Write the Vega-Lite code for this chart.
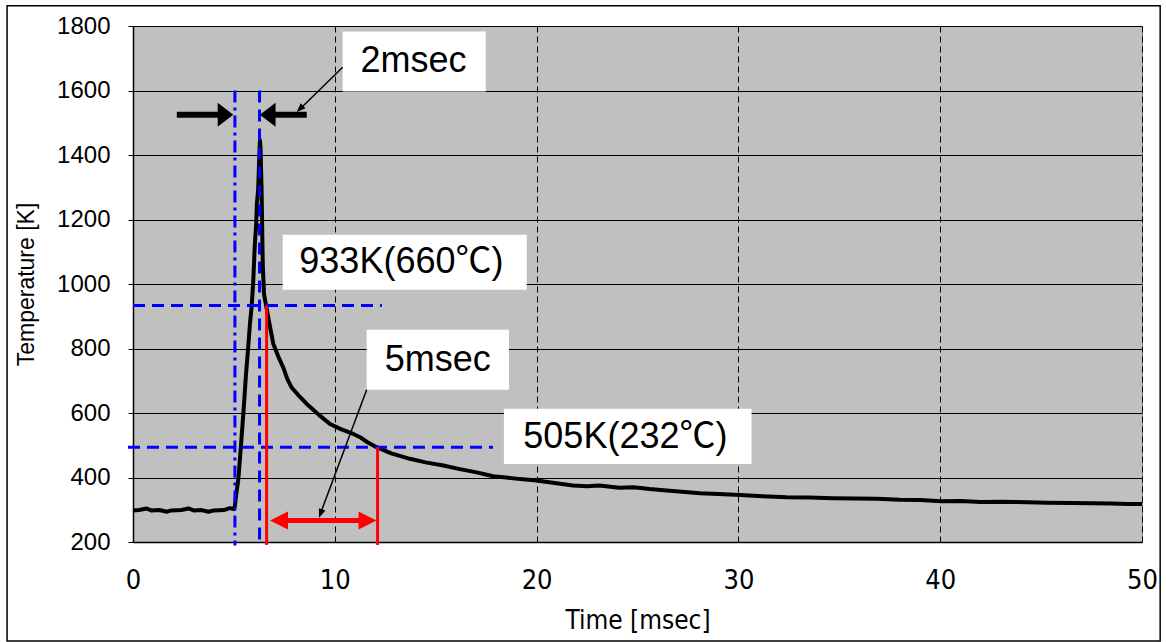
{
  "$schema": "https://vega.github.io/schema/vega-lite/v6.json",
  "width": 1009,
  "height": 516,
  "autosize": {"type": "none"},
  "padding": {"left": 133, "top": 26, "right": 24, "bottom": 100},
  "background": "white",
  "config": {
    "view": {"fill": "#C0C0C0", "stroke": "#808080", "strokeWidth": 1},
    "font": "Liberation Sans, sans-serif",
    "axisX": {
      "grid": true, "gridColor": "#000000", "gridDash": [6, 4], "gridWidth": 1, "gridOpacity": 1,
      "domainColor": "#000000", "domainWidth": 1.5, "tickSize": 0,
      "labelFont": "DejaVu Sans Condensed, Liberation Sans, sans-serif", "labelFontSize": 27, "labelColor": "#000000",
      "labelPadding": 25, "labelFlush": false,
      "titleFont": "DejaVu Sans Condensed, Liberation Sans, sans-serif", "titleFontSize": 26, "titleFontWeight": "normal",
      "titleColor": "#000000", "titlePadding": 14
    },
    "axisY": {
      "grid": true, "gridColor": "#000000", "gridWidth": 1, "gridOpacity": 1,
      "domainColor": "#000000", "domainWidth": 1.5, "tickSize": 5, "tickColor": "#000000",
      "labelFont": "Liberation Sans, sans-serif", "labelFontSize": 24, "labelColor": "#000000",
      "labelPadding": 18, "labelFlush": false,
      "titleFont": "Liberation Sans, sans-serif", "titleFontSize": 23, "titleFontWeight": "normal",
      "titleColor": "#000000", "titlePadding": 18
    }
  },
  "encoding": {
    "x": {
      "field": "t", "type": "quantitative",
      "scale": {"domain": [0, 50], "nice": false, "zero": false},
      "axis": {"title": "Time [msec]", "values": [0, 10, 20, 30, 40, 50], "format": "d"}
    },
    "y": {
      "field": "T", "type": "quantitative",
      "scale": {"domain": [200, 1800], "nice": false, "zero": false},
      "axis": {"title": "Temperature [K]", "values": [200, 400, 600, 800, 1000, 1200, 1400, 1600, 1800], "format": "d"}
    }
  },
  "layer": [
    {
      "data": {"values": [
        {"t": 0, "T": 298}, {"t": 0.3, "T": 299}, {"t": 0.68, "T": 304}, {"t": 0.9, "T": 298},
        {"t": 1.3, "T": 299}, {"t": 1.68, "T": 294}, {"t": 1.9, "T": 298}, {"t": 2.4, "T": 299},
        {"t": 2.75, "T": 304}, {"t": 3.0, "T": 298}, {"t": 3.4, "T": 299}, {"t": 3.74, "T": 294},
        {"t": 4.0, "T": 298}, {"t": 4.5, "T": 299}, {"t": 4.8, "T": 305}, {"t": 5.0, "T": 302},
        {"t": 5.05, "T": 312}, {"t": 5.12, "T": 350}, {"t": 5.22, "T": 395}, {"t": 5.35, "T": 500},
        {"t": 5.47, "T": 600}, {"t": 5.6, "T": 720}, {"t": 5.71, "T": 805}, {"t": 5.8, "T": 880},
        {"t": 5.88, "T": 930}, {"t": 5.96, "T": 1010}, {"t": 6.02, "T": 1100}, {"t": 6.05, "T": 1135},
        {"t": 6.1, "T": 1180}, {"t": 6.14, "T": 1250}, {"t": 6.2, "T": 1290}, {"t": 6.26, "T": 1400},
        {"t": 6.29, "T": 1446}, {"t": 6.32, "T": 1420}, {"t": 6.37, "T": 1300}, {"t": 6.43, "T": 1063},
        {"t": 6.49, "T": 970}, {"t": 6.56, "T": 945}, {"t": 6.62, "T": 925}, {"t": 6.75, "T": 880},
        {"t": 6.95, "T": 815}, {"t": 7.2, "T": 775}, {"t": 7.44, "T": 742}, {"t": 7.65, "T": 705},
        {"t": 7.85, "T": 680}, {"t": 8.2, "T": 655}, {"t": 8.6, "T": 629}, {"t": 9.2, "T": 595},
        {"t": 9.76, "T": 566}, {"t": 10.3, "T": 550}, {"t": 10.92, "T": 535}, {"t": 11.25, "T": 525},
        {"t": 11.6, "T": 510}, {"t": 12.07, "T": 494}, {"t": 12.8, "T": 475}, {"t": 13.72, "T": 458},
        {"t": 14.5, "T": 447}, {"t": 15.38, "T": 437}, {"t": 16.2, "T": 426}, {"t": 17.03, "T": 416},
        {"t": 17.85, "T": 404}, {"t": 18.5, "T": 400}, {"t": 19.2, "T": 395}, {"t": 20.0, "T": 391},
        {"t": 20.8, "T": 384}, {"t": 21.8, "T": 375}, {"t": 22.5, "T": 373}, {"t": 23.1, "T": 375},
        {"t": 24.1, "T": 368}, {"t": 24.8, "T": 370}, {"t": 25.6, "T": 364}, {"t": 26.45, "T": 360},
        {"t": 27.2, "T": 356}, {"t": 28.1, "T": 351}, {"t": 29.0, "T": 349}, {"t": 30.1, "T": 346},
        {"t": 31.2, "T": 342}, {"t": 32.4, "T": 339}, {"t": 33.5, "T": 338}, {"t": 34.7, "T": 336},
        {"t": 35.8, "T": 335}, {"t": 36.85, "T": 334}, {"t": 38.0, "T": 331}, {"t": 39.0, "T": 330},
        {"t": 40.05, "T": 326}, {"t": 41.0, "T": 327}, {"t": 42.0, "T": 324}, {"t": 43.0, "T": 325},
        {"t": 44.3, "T": 323}, {"t": 45.3, "T": 322}, {"t": 46.5, "T": 321}, {"t": 47.5, "T": 320},
        {"t": 48.5, "T": 319}, {"t": 49.3, "T": 318}, {"t": 50.0, "T": 318}
      ]},
      "mark": {"type": "line", "color": "#000000", "strokeWidth": 4, "strokeJoin": "round"}
    },
    {
      "data": {"values": [
        {"t": 6.27, "T": 1600, "t2": 6.27, "T2": 189},
        {"t": 0, "T": 933, "t2": 12.33, "T2": 933},
        {"t": -0.25, "T": 494, "t2": 17.84, "T2": 494}
      ]},
      "mark": {"type": "rule", "color": "#0000FF", "strokeWidth": 3, "strokeDash": [12, 7]},
      "encoding": {"x2": {"field": "t2"}, "y2": {"field": "T2"}}
    },
    {
      "data": {"values": [{"t": 5.05, "T": 1600, "t2": 5.05, "T2": 189}]},
      "mark": {"type": "rule", "color": "#0000FF", "strokeWidth": 3, "strokeDash": [12, 5, 3, 5]},
      "encoding": {"x2": {"field": "t2"}, "y2": {"field": "T2"}}
    },
    {
      "data": {"values": [
        {"t": 6.62, "T": 933, "t2": 6.62, "T2": 191},
        {"t": 12.12, "T": 494, "t2": 12.12, "T2": 191}
      ]},
      "mark": {"type": "rule", "color": "#FF0000", "strokeWidth": 3},
      "encoding": {"x2": {"field": "t2"}, "y2": {"field": "T2"}}
    },
    {
      "data": {"values": [
        {"t": 2.17, "T": 1525, "t2": 4.4, "T2": 1525},
        {"t": 8.61, "T": 1525, "t2": 6.9, "T2": 1525}
      ]},
      "mark": {"type": "rule", "color": "#000000", "strokeWidth": 6},
      "encoding": {"x2": {"field": "t2"}, "y2": {"field": "T2"}}
    },
    {
      "data": {"values": [{"t": 4.97, "T": 1525}]},
      "mark": {"type": "point", "filled": true, "color": "#000000", "opacity": 1, "size": 576, "shape": "M 0 0 L -1.3 -1 L -1.3 1 Z"}
    },
    {
      "data": {"values": [{"t": 6.29, "T": 1525}]},
      "mark": {"type": "point", "filled": true, "color": "#000000", "opacity": 1, "size": 576, "shape": "M 0 0 L 1.3 -1 L 1.3 1 Z"}
    },
    {
      "data": {"values": [{"t": 7.4, "T": 267, "t2": 11.5, "T2": 267}]},
      "mark": {"type": "rule", "color": "#FF0000", "strokeWidth": 5},
      "encoding": {"x2": {"field": "t2"}, "y2": {"field": "T2"}}
    },
    {
      "data": {"values": [{"t": 6.79, "T": 267}]},
      "mark": {"type": "point", "filled": true, "color": "#FF0000", "opacity": 1, "size": 324, "shape": "M 0 0 L 2 -1 L 2 1 Z"}
    },
    {
      "data": {"values": [{"t": 12.07, "T": 267}]},
      "mark": {"type": "point", "filled": true, "color": "#FF0000", "opacity": 1, "size": 324, "shape": "M 0 0 L -2 -1 L -2 1 Z"}
    },
    {
      "data": {"values": [
        {"t": 10.39, "T": 1783, "t2": 17.48, "T2": 1597},
        {"t": 7.42, "T": 1153, "t2": 19.51, "T2": 982},
        {"t": 11.58, "T": 858, "t2": 18.63, "T2": 672},
        {"t": 18.38, "T": 613, "t2": 30.65, "T2": 442}
      ]},
      "mark": {"type": "rect", "color": "#FFFFFF", "opacity": 1},
      "encoding": {"x2": {"field": "t2"}, "y2": {"field": "T2"}}
    },
    {
      "data": {"values": [
        {"t": 13.9, "T": 1690, "label": "2msec"},
        {"t": 13.3, "T": 1067, "label": "933K(660℃)"},
        {"t": 15.1, "T": 763, "label": "5msec"},
        {"t": 24.4, "T": 526, "label": "505K(232℃)"}
      ]},
      "mark": {"type": "text", "font": "Liberation Sans, Noto Sans CJK JP, sans-serif", "fontSize": 36, "color": "#000000", "align": "center", "baseline": "middle"},
      "encoding": {"text": {"field": "label"}}
    },
    {
      "data": {"values": [
        {"t": 10.39, "T": 1672, "t2": 8.2, "T2": 1538},
        {"t": 11.58, "T": 672, "t2": 9.3, "T2": 290}
      ]},
      "mark": {"type": "rule", "color": "#000000", "strokeWidth": 1.5},
      "encoding": {"x2": {"field": "t2"}, "y2": {"field": "T2"}}
    },
    {
      "data": {"values": [{"t": 8.11, "T": 1533}]},
      "mark": {"type": "point", "filled": true, "color": "#000000", "opacity": 1, "size": 100, "angle": 135.6, "shape": "M 0 0 L -1.8 -0.7 L -1.8 0.7 Z"}
    },
    {
      "data": {"values": [{"t": 9.22, "T": 275}]},
      "mark": {"type": "point", "filled": true, "color": "#000000", "opacity": 1, "size": 100, "angle": 110.2, "shape": "M 0 0 L -1.8 -0.7 L -1.8 0.7 Z"}
    },
    {
      "data": {"values": [{"t": -6.24, "T": 1863, "t2": 50.9, "T2": -107}]},
      "mark": {"type": "rect", "fill": null, "fillOpacity": 0, "stroke": "#000000", "strokeWidth": 1.5, "clip": false},
      "encoding": {"x2": {"field": "t2"}, "y2": {"field": "T2"}}
    }
  ]
}
